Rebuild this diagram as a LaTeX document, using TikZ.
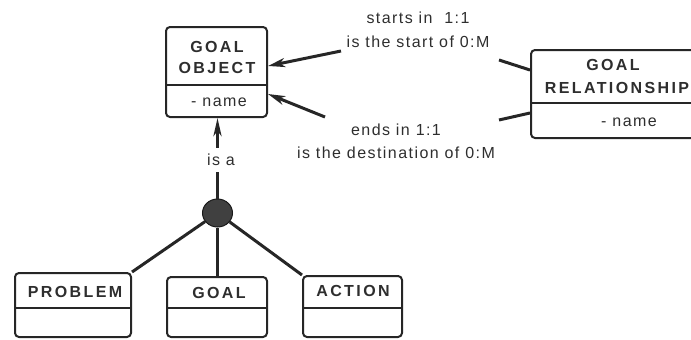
\documentclass[tikz,border=0pt]{standalone}
\usepackage{fontspec}
\setmainfont{Liberation Sans}
\newfontfamily\titlefont{Liberation Sans Bold}[LetterSpace=15]
\newfontfamily\labelfont{Liberation Sans}[LetterSpace=9]
\usetikzlibrary{arrows.meta,shapes.geometric}
\begin{document}
\begin{tikzpicture}[x=1pt,y=-1pt,
  ink/.style={draw=black!85, line width=2pt},
  umlbox/.style={draw=black!85, line width=2pt, rounded corners=4pt, fill=white, inner sep=0pt},
  title/.style={text=black!82, font=\titlefont\fontsize{16}{18}\selectfont, inner sep=0pt},
  attr/.style={text=black!82, font=\labelfont\fontsize{16}{18}\selectfont, inner sep=0pt},
  rel/.style={line width=3pt, draw=black!85},
  tip/.style={-{Stealth[length=17pt,width=9pt,inset=5pt]}}]
\useasboundingbox (0,0) rectangle (691,340);

% class boxes
\node[umlbox, minimum width=101pt, minimum height=90pt] (goalobj) at (216.5,72) {};
\draw[ink] (goalobj.west |- 0,85) -- (goalobj.east |- 0,85);
\node[title] (goT1) at (217,47) {GOAL};
\node[title] (goT2) at (217,68) {OBJECT};
\node[attr]  (goA)  at (219,102) {- name};

\node[umlbox, minimum width=196pt, minimum height=88pt] (grel) at (629,94) {};
\draw[ink] (grel.west |- 0,103) -- (grel.east |- 0,103);
\node[title] (grT1) at (613,65) {GOAL};
\node[title] (grT2) at (617,88) {RELATIONSHIP};
\node[attr]  (grA)  at (629,122) {- name};

\node[umlbox, minimum width=116pt, minimum height=64pt] (problem) at (73,305) {};
\draw[ink] (problem.west |- 0,308) -- (problem.east |- 0,308);
\node[title] (prT) at (75,292) {PROBLEM};

\node[umlbox, minimum width=100pt, minimum height=60pt] (goal) at (217,307) {};
\draw[ink] (goal.west |- 0,308) -- (goal.east |- 0,308);
\node[title] (gT) at (219,293) {GOAL};

\node[umlbox, minimum width=99pt, minimum height=61pt] (action) at (352.5,306.5) {};
\draw[ink] (action.west |- 0,308) -- (action.east |- 0,308);
\node[title] (aT) at (353,291) {ACTION};

% generalisation: the "is a" label interrupts the vertical connector
\node[ellipse, draw=black!90, line width=1pt, fill=black!75, minimum width=30pt, minimum height=28pt, inner sep=0pt] (isa) at (217.5,213) {};
\draw[rel, -{Stealth[length=18pt,width=8pt,inset=5pt]}] (isa.north) -- (goalobj.south -| isa.north);
\node[attr, fill=white, inner xsep=3pt, inner ysep=6pt] (isaL) at (221,160) {is a};
\draw[rel] (isa) -- (problem.north east);
\draw[rel] (isa.south) -- (goal.north -| isa.south);
\draw[rel] (isa) -- (action.north west);

% association between goal object and goal relationship
\coordinate (s1) at (341,51);
\coordinate (s2) at (325,117);
\coordinate (r1) at (499,60);
\coordinate (r2) at (499,120);
\draw[rel, tip] (s1) -- ([yshift=6pt]goalobj.east);
\draw[rel, tip] (s2) -- ([yshift=-22pt]goalobj.east);
\draw[rel] (r1) -- ([yshift=24pt]grel.west);
\draw[rel] (r2) -- ([yshift=-19pt]grel.west);

\node[attr] (l1) at (418,18) {starts in\ \ 1:1};
\node[attr] (l2) at (418,42) {is the start of 0:M};
\node[attr] (l3) at (396,130) {ends in 1:1};
\node[attr] (l4) at (396,153) {is the destination of 0:M};
\end{tikzpicture}
\end{document}
